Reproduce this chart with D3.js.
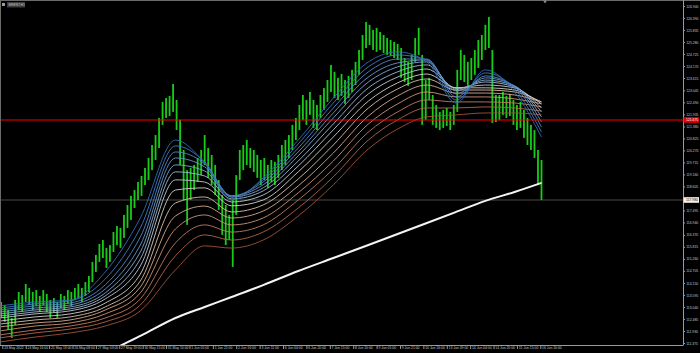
<!DOCTYPE html>
<html>
<head>
<meta charset="utf-8">
<script src="https://cdn.jsdelivr.net/npm/d3@7"></script>
<style>
  html, body { margin: 0; padding: 0; background: #000; }
  svg { display: block; }
  text { font-family: "Liberation Sans", Arial, sans-serif; }
</style>
</head>
<body>
<svg id="chart" width="700" height="353"></svg>
<script>
// ---- data ----
const symbol = "BRENT,H1";

// one bar every 3 hours, bar i sits at hour 3*i+1
const barHigh = [113.27,113.13,112.90,112.53,113.36,113.73,113.59,114.10,113.92,113.73,
  113.82,113.55,113.82,113.64,113.36,113.45,113.27,113.64,113.55,113.82,
  113.73,113.92,114.10,113.92,114.19,114.47,115.12,115.44,115.95,116.13,
  115.77,115.90,116.50,116.78,116.69,117.29,117.75,118.17,118.44,118.81,
  119.09,119.46,119.92,120.52,120.98,121.77,122.51,122.69,122.79,123.34,
  122.60,121.68,120.29,119.36,119.46,119.60,119.92,120.29,120.98,120.38,
  120.06,119.60,118.90,118.21,117.75,117.29,117.98,119.13,120.29,120.52,
  120.75,120.38,120.29,120.06,119.83,119.92,119.60,119.83,119.74,120.06,
  120.52,120.75,120.98,121.45,121.77,122.37,122.83,122.60,122.97,122.60,
  122.37,122.83,123.15,123.52,124.22,123.90,123.62,123.80,123.52,123.71,
  123.99,124.36,124.91,125.60,126.20,126.07,125.83,125.93,125.74,125.60,
  125.46,125.37,125.28,125.19,125.00,124.54,124.36,124.68,125.46,125.93,
  124.68,123.52,123.62,122.83,122.37,122.05,122.14,122.23,122.05,122.37,
  123.99,124.91,124.68,124.36,124.54,124.91,125.37,125.60,126.07,126.43,
  124.91,122.83,122.83,122.97,122.79,122.88,122.60,122.37,122.51,122.14,
  121.77,121.45,121.21,120.29,119.83];
const barLow = [112.53,112.35,111.98,111.61,112.21,112.90,112.81,113.27,113.13,112.90,
  113.08,112.81,113.13,112.81,112.53,112.81,112.53,112.99,112.90,113.18,
  113.08,113.36,113.45,113.27,113.55,113.73,114.19,114.66,115.12,115.30,
  114.84,115.12,115.58,115.90,115.77,116.23,116.69,117.06,117.61,117.98,
  118.17,118.67,118.90,119.36,119.83,120.38,121.45,121.77,121.86,122.05,
  121.21,119.60,117.98,116.83,117.98,118.44,118.81,119.13,119.60,119.00,
  118.67,118.21,117.52,116.37,115.90,116.13,114.89,117.29,118.90,119.36,
  119.60,119.46,119.27,119.00,118.67,118.90,118.54,118.81,118.67,119.00,
  119.36,119.60,119.92,120.29,120.75,121.21,121.68,121.45,121.91,121.31,
  121.21,121.77,122.14,122.51,122.97,122.69,122.60,122.79,122.42,122.69,
  122.97,123.29,123.76,124.45,125.00,125.14,124.91,124.82,124.91,124.77,
  124.68,124.63,124.54,124.45,123.62,123.43,123.25,123.52,124.36,124.68,
  121.45,121.68,122.60,121.45,121.31,121.21,121.31,121.40,121.21,121.45,
  122.05,123.52,123.43,123.25,123.52,123.76,124.08,124.45,124.91,125.00,
  121.54,121.58,121.68,121.91,121.77,121.86,121.45,121.21,121.31,120.85,
  120.52,120.29,119.92,118.67,117.98];

// moving-average ribbon, sampled at these hours
const maBars = [0,30,60,90,120,150,175,198,225,255,285,315,340,365,390,415,440,463];
const fastMAs = [
  [113.09,113.27,113.36,114.66,117.15,120.75,119.69,117.98,119.00,120.75,122.69,124.36,124.82,124.36,122.46,123.99,122.97,120.89],
  [112.99,113.18,113.32,114.33,116.69,120.48,119.74,118.12,118.91,120.57,122.46,124.13,124.68,124.45,122.60,123.85,123.11,121.12],
  [112.90,113.09,113.22,114.06,116.27,120.20,119.65,118.17,118.81,120.38,122.23,123.90,124.49,124.49,122.74,123.71,123.20,121.35],
  [112.81,112.99,113.13,113.87,115.90,119.92,119.51,118.17,118.68,120.20,122.00,123.66,124.31,124.45,122.88,123.62,123.25,121.58],
  [112.72,112.90,113.04,113.69,115.58,119.60,119.32,118.12,118.54,120.02,121.77,123.43,124.13,124.36,123.02,123.52,123.25,121.82],
  [112.62,112.81,112.95,113.55,115.26,119.28,119.09,118.03,118.40,119.78,121.49,123.16,123.90,124.22,123.11,123.43,123.20,122.05],
  [112.53,112.72,112.86,113.41,114.93,118.91,118.81,117.89,118.21,119.55,121.22,122.88,123.66,124.03,123.16,123.29,123.16,122.23]
];
const slowMAs = [
  [112.39,112.58,112.72,113.22,114.56,118.44,118.54,117.71,117.98,119.28,120.89,122.55,123.39,123.80,123.16,123.16,123.06,122.42],
  [112.25,112.44,112.58,113.04,114.24,117.84,118.12,117.43,117.75,118.95,120.52,122.23,123.11,123.57,123.06,123.06,122.97,122.51],
  [112.12,112.30,112.44,112.90,113.96,117.24,117.70,117.15,117.47,118.63,120.15,121.86,122.79,123.29,122.92,122.92,122.83,122.51],
  [111.93,112.16,112.30,112.72,113.69,116.64,117.29,116.83,117.15,118.31,119.78,121.49,122.42,122.97,122.74,122.74,122.65,122.42],
  [111.75,111.98,112.16,112.53,113.41,116.00,116.83,116.50,116.83,117.98,119.41,121.12,122.05,122.60,122.51,122.51,122.46,122.28],
  [111.61,111.84,112.02,112.35,113.13,115.40,116.37,116.13,116.50,117.61,119.05,120.75,121.68,122.23,122.23,122.28,122.23,122.09],
  [111.42,111.65,111.84,112.16,112.86,114.75,115.86,115.76,116.13,117.24,118.68,120.34,121.26,121.82,121.91,122.00,122.00,121.91]
];
const longMABars = [90,120,150,175,198,225,255,285,315,340,365,390,415,440,463];
const longMA = [110.91,111.70,112.53,113.04,113.50,114.05,114.70,115.30,115.90,116.41,116.92,117.43,117.94,118.35,118.77];

const alertLevel = 121.675;
const alertLabel = "121.675";
const bidPrice = 117.98;
const bidLabel = "117.980";

const priceTicks = ["126.940","126.390","125.835","125.280","124.725","124.170","123.615","123.045",
  "122.490","121.935","121.380","120.825","120.270","119.715","119.160","118.605","118.050",
  "117.495","116.940","116.370","115.815","115.260","114.705","114.150","113.595","113.040",
  "112.485","111.930","111.375"];
const timeLabels = ["23 May 2022","24 May 16:00","25 May 13:00","26 May 08:00","27 May 03:00",
  "27 May 19:00","30 May 15:00","31 May 10:00","1 Jun 05:00","1 Jun 21:00","2 Jun 16:00",
  "3 Jun 11:00","6 Jun 04:00","6 Jun 20:00","7 Jun 15:00","8 Jun 10:00","9 Jun 05:00",
  "9 Jun 21:00","10 Jun 16:00","13 Jun 09:00","14 Jun 04:00","14 Jun 20:00","15 Jun 15:00",
  "16 Jun 10:00"];
const timeLabelBars = [2,22,42,62,82,102,122,142,162,182,202,222,242,262,282,302,322,342,362,382,402,422,442,462];

const fastColors = ['#2f6cb4','#3f7abf','#5088c6','#6797cb','#80a7cf','#9cb8d4','#bcc9d8'];
const slowColors = ['#d6d0ca','#d9bfaa','#d5aa8e','#cc9475','#c07d5f','#b1674b','#a0523a'];

// ---- chart ----
const svg = d3.select('#chart');
const plotW = 683, plotH = 345;
const fs = '3.4px';

svg.append('rect').attr('width', 700).attr('height', 353).attr('fill', '#000');

const x = d3.scaleLinear().domain([0, 584]).range([0, plotW]);
const y = d3.scaleLinear().domain([111.375, 126.94]).range([343, 6]);

svg.append('clipPath').attr('id', 'plot')
  .append('rect').attr('x', 0).attr('y', 0).attr('width', plotW).attr('height', plotH);

const plot = svg.append('g').attr('clip-path', 'url(#plot)');

// bid line
plot.append('line')
  .attr('x1', 0).attr('x2', plotW)
  .attr('y1', y(bidPrice)).attr('y2', y(bidPrice))
  .attr('stroke', '#4a4a4a').attr('stroke-width', 1.2);

// bars
plot.selectAll('.bar')
  .data(barHigh.map((h, i) => ({ bar: 3 * i + 1, high: h, low: barLow[i] })))
  .enter().append('rect')
  .attr('class', 'bar')
  .attr('x', d => x(d.bar) - 0.9)
  .attr('y', d => y(d.high))
  .attr('width', 1.8)
  .attr('height', d => y(d.low) - y(d.high))
  .attr('fill', '#17cc17');

const line = d3.line()
  .x(d => x(d[0]))
  .y(d => y(d[1]))
  .curve(d3.curveMonotoneX);

slowMAs.slice().reverse().forEach((s, k) => {
  plot.append('path')
    .attr('d', line(maBars.map((b, i) => [b, s[i]])))
    .attr('fill', 'none')
    .attr('stroke', slowColors[slowColors.length - 1 - k])
    .attr('stroke-width', 0.9);
});
fastMAs.slice().reverse().forEach((s, k) => {
  plot.append('path')
    .attr('d', line(maBars.map((b, i) => [b, s[i]])))
    .attr('fill', 'none')
    .attr('stroke', fastColors[fastColors.length - 1 - k])
    .attr('stroke-width', 0.9);
});

plot.append('path')
  .attr('d', line(longMABars.map((b, i) => [b, longMA[i]])))
  .attr('fill', 'none')
  .attr('stroke', '#f4f4f4')
  .attr('stroke-width', 2);

plot.append('line')
  .attr('x1', 0).attr('x2', plotW)
  .attr('y1', y(alertLevel)).attr('y2', y(alertLevel))
  .attr('stroke', '#ff0000').attr('stroke-width', 1.2);

// frame
svg.append('line').attr('x1', 0).attr('x2', 700).attr('y1', 0.5).attr('y2', 0.5).attr('stroke', '#6a6a6a');
svg.append('line').attr('x1', 0.5).attr('x2', 0.5).attr('y1', 0).attr('y2', plotH).attr('stroke', '#6a6a6a');

// right price axis
const yAxis = svg.append('g')
  .attr('transform', `translate(${plotW},0)`)
  .call(d3.axisRight(y)
    .tickValues(priceTicks.map(Number))
    .tickFormat((d, i) => priceTicks[i])
    .tickSize(2).tickSizeOuter(0).tickPadding(1.2));
yAxis.select('.domain').attr('stroke', '#9a9a9a').attr('d', `M0.5,0V${plotH}`);
yAxis.selectAll('.tick line').attr('stroke', '#9a9a9a');
yAxis.selectAll('text')
  .attr('fill', '#c8c8c8')
  .style('font-size', fs);

// bottom time axis
const xAxis = svg.append('g')
  .attr('transform', `translate(0,${plotH})`)
  .call(d3.axisBottom(x)
    .tickValues(timeLabelBars)
    .tickFormat((d, i) => timeLabels[i])
    .tickSize(4).tickSizeOuter(0));
xAxis.select('.domain').attr('stroke', '#9a9a9a').attr('d', `M0,0.5H${plotW + 0.5}`);
xAxis.selectAll('.tick line').attr('stroke', '#9a9a9a');
xAxis.selectAll('text')
  .attr('fill', '#c8c8c8')
  .attr('text-anchor', 'start')
  .attr('x', 1.3).attr('y', 1.8).attr('dy', '0.71em')
  .style('font-size', fs);

// price tags on the axis
function tag(price, label, bg, fg) {
  const g = svg.append('g').attr('transform', `translate(${plotW},${y(price)})`);
  g.append('rect').attr('x', 0.5).attr('y', -2.8).attr('width', 15.5).attr('height', 5.6).attr('fill', bg);
  g.append('text').attr('x', 3).attr('y', 0).attr('dy', '0.35em')
    .attr('fill', fg).style('font-size', fs)
    .text(label);
}
tag(bidPrice, bidLabel, '#f2f2f2', '#000');
tag(alertLevel, alertLabel, '#e00000', '#fff');

// symbol caption
svg.append('rect').attr('x', 2).attr('y', 3).attr('width', 3).attr('height', 3).attr('fill', '#9a9a9a');
svg.append('rect').attr('x', 7).attr('y', 2).attr('width', 18).attr('height', 5.5).attr('fill', '#3a3a3a');
svg.append('text').attr('x', 8.5).attr('y', 4.8).attr('dy', '0.35em')
  .attr('fill', '#d0d0d0').style('font-size', '3.4px')
  .text(symbol);

// chart shift marker
svg.append('path')
  .attr('d', `M${x(466) - 2},0.5L${x(466) + 2},0.5L${x(466)},3.5Z`)
  .attr('fill', '#8a8a8a');
</script>
</body>
</html>
